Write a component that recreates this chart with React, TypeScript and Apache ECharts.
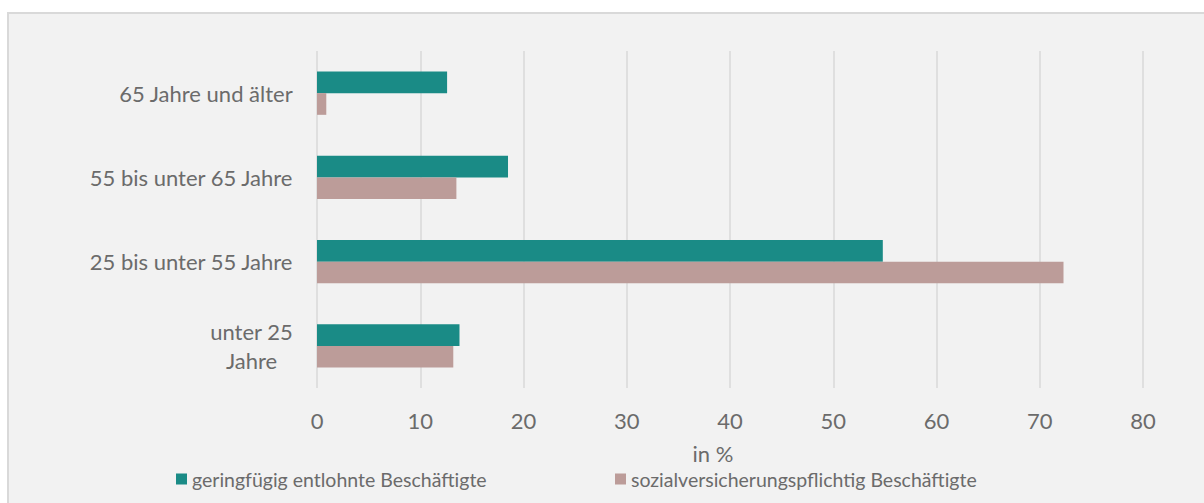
import React, { useEffect, useRef } from "react";
import * as echarts from "echarts";

const categories = [
  "65 Jahre und älter",
  "55 bis unter 65 Jahre",
  "25 bis unter 55 Jahre",
  "unter 25\nJahre",
];
const seriesNames = [
  "geringfügig entlohnte Beschäftigte",
  "sozialversicherungspflichtig Beschäftigte",
];
const geringfuegig = [12.6, 18.5, 54.8, 13.8];
const sozial = [0.9, 13.5, 72.3, 13.2];
const xTicks = { min: 0, max: 80, interval: 10 };
const axisName = "in %";

const FONT = "Lato";
const TEXT = "#6b6b6b";
const AX = 22;
const LG = 19.5;

export default function App() {
  const ref = useRef<HTMLDivElement>(null);
  useEffect(() => {
    if (!ref.current) return;
    const chart = echarts.init(ref.current, null, { renderer: "svg" });
    const legendCommon = {
      top: 464,
      icon: "rect",
      itemWidth: 11,
      itemHeight: 11,
      itemGap: 5,
      textStyle: { fontFamily: FONT, fontSize: LG, color: TEXT },
    };
    chart.setOption({
      animation: false,
      backgroundColor: "#ffffff",
      textStyle: { fontFamily: FONT, color: TEXT },
      graphic: [
        {
          type: "rect",
          z: -10,
          shape: { x: 8, y: 13, width: 1300, height: 600 },
          style: { fill: "#f2f2f2", stroke: "#d9d9d9", lineWidth: 2 },
        },
      ],
      grid: { left: 317, right: 61, top: 51, bottom: 115, containLabel: false },
      legend: [
        { ...legendCommon, data: [seriesNames[0]], left: 171 },
        { ...legendCommon, data: [seriesNames[1]], left: 610 },
      ],
      xAxis: {
        type: "value",
        min: xTicks.min,
        max: xTicks.max,
        interval: xTicks.interval,
        name: axisName,
        nameLocation: "middle",
        nameGap: 54,
        nameTextStyle: {
          fontFamily: FONT,
          fontSize: AX,
          color: TEXT,
          lineHeight: 22,
          padding: [0, 34, 0, 0],
        },
        axisLine: { show: false },
        axisTick: { show: false },
        axisLabel: { fontFamily: FONT, fontSize: AX, color: TEXT, margin: 21 },
        splitLine: { show: true, lineStyle: { color: "#d9d9d9", width: 1.5 } },
      },
      yAxis: {
        type: "category",
        data: categories,
        inverse: true,
        axisLine: { show: false },
        axisTick: { show: false },
        axisLabel: {
          fontFamily: FONT,
          fontSize: AX,
          color: TEXT,
          margin: 24,
          lineHeight: 29,
          formatter: (v: string) =>
            v
              .split("\n")
              .map((l) => "{c|" + l + "}")
              .join("\n"),
          rich: {
            c: { align: "center", fontFamily: FONT, fontSize: AX, color: TEXT, lineHeight: 29 },
          },
        },
      },
      series: [
        {
          name: seriesNames[0],
          type: "bar",
          data: geringfuegig,
          barWidth: 21.7,
          barGap: "0%",
          itemStyle: { color: "#1a8b86" },
        },
        {
          name: seriesNames[1],
          type: "bar",
          data: sozial,
          barWidth: 21.7,
          barGap: "0%",
          itemStyle: { color: "#bc9c99" },
        },
      ],
    });
    return () => chart.dispose();
  }, []);
  return (
    <div
      ref={ref}
      style={{ position: "fixed", left: 0, top: 0, width: 1204, height: 503 }}
    />
  );
}
